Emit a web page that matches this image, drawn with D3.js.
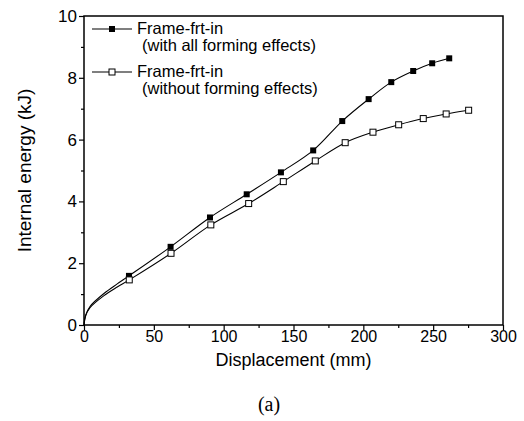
<!DOCTYPE html>
<html>
<head>
<meta charset="utf-8">
<script src="https://cdn.jsdelivr.net/npm/d3@7"></script>
<style>
  body { margin: 0; background: #fff; }
  text { font-family: "Liberation Sans", Arial, sans-serif; fill: #000; }
</style>
</head>
<body>
<script>
// Chart Data
// leading points trace the smooth start of each curve (no markers drawn there)
var startDisp = [0, 1.2, 4.3, 14.3, 23.8];
var startWith = [0, 0.32, 0.60, 1.02, 1.33];
var startWithout = [0, 0.30, 0.56, 0.95, 1.23];

// marked points, with all forming effects
var dispWith = [32.2, 62.0, 90.2, 116.5, 141.0, 164.1, 184.9, 203.8, 220.0, 235.7, 249.3, 261.5];
var energyWith = [1.59, 2.53, 3.48, 4.23, 4.94, 5.65, 6.60, 7.31, 7.86, 8.22, 8.47, 8.63];

// marked points, without forming effects
var dispWithout = [32.4, 62.3, 90.8, 117.9, 142.7, 165.6, 187.0, 206.9, 225.3, 242.9, 259.3, 275.4];
var energyWithout = [1.46, 2.32, 3.24, 3.93, 4.64, 5.31, 5.90, 6.24, 6.48, 6.68, 6.83, 6.95];

var xTicks = [0, 50, 100, 150, 200, 250, 300];
var yTicks = [0, 2, 4, 6, 8, 10];
var legendLabels = [
    ["Frame-frt-in", "(with all forming effects)"],
    ["Frame-frt-in", "(without forming effects)"]
];

// Define SVG Dimensions
var svgWidth = 524;
var svgHeight = 421;

var margin = { top: 16, bottom: 96, left: 84, right: 21 };
var chartWidth = svgWidth - margin.left - margin.right;
var chartHeight = svgHeight - margin.top - margin.bottom;

var svg = d3.select("body")
    .append("svg")
    .attr("width", svgWidth)
    .attr("height", svgHeight);

var chartGroup = svg.append("g")
    .attr("transform", `translate(${margin.left}, ${margin.top})`);

// Scales
var xScale = d3.scaleLinear().domain([0, 300]).range([0, chartWidth]);
var yScale = d3.scaleLinear().domain([0, 10]).range([chartHeight, 0]);

// Build point lists
function zipPts(xs, ys) {
    return xs.map((x, i) => ({ x: x, y: ys[i] }));
}
var seriesWith = zipPts(startDisp, startWith).concat(zipPts(dispWith, energyWith));
var seriesWithout = zipPts(startDisp, startWithout).concat(zipPts(dispWithout, energyWithout));

// Axes (major + minor ticks, outward)
var xMinor = d3.axisBottom(xScale).tickValues(d3.range(25, 300, 50)).tickSize(3).tickFormat("");
var xMajor = d3.axisBottom(xScale).tickValues(xTicks).tickSize(5).tickPadding(1).tickFormat(d3.format("d"));
var yMinor = d3.axisLeft(yScale).tickValues(d3.range(1, 10, 2)).tickSize(3).tickFormat("");
var yMajor = d3.axisLeft(yScale).tickValues(yTicks).tickSize(5).tickPadding(2).tickFormat(d3.format("d"));

[xMinor, xMajor].forEach(ax => {
    chartGroup.append("g")
        .attr("class", "xaxis")
        .attr("transform", `translate(0, ${chartHeight})`)
        .call(ax);
});
[yMinor, yMajor].forEach(ax => {
    chartGroup.append("g").attr("class", "yaxis").call(ax);
});

chartGroup.selectAll(".xaxis .tick text").attr("font-size", 16);
chartGroup.selectAll(".yaxis .tick text").attr("font-size", 17);
chartGroup.selectAll(".tick text").attr("font-family", "Liberation Sans, Arial, sans-serif");
chartGroup.selectAll(".domain").remove();
chartGroup.selectAll(".tick line").attr("stroke", "#000").attr("stroke-width", 1.2);

// Frame
chartGroup.append("rect")
    .attr("x", 0)
    .attr("y", 0)
    .attr("width", chartWidth)
    .attr("height", chartHeight)
    .attr("fill", "none")
    .attr("stroke", "#000")
    .attr("stroke-width", 1.5);

// Lines
var line = d3.line()
    .x(d => xScale(d.x))
    .y(d => yScale(d.y))
    .curve(d3.curveCatmullRom.alpha(0.5));

[seriesWith, seriesWithout].forEach(s => {
    chartGroup.append("path")
        .datum(s)
        .attr("d", line)
        .attr("fill", "none")
        .attr("stroke", "#000")
        .attr("stroke-width", 1.1);
});

// Markers
chartGroup.selectAll(".mWith")
    .data(zipPts(dispWith, energyWith))
    .enter()
    .append("rect")
    .attr("x", d => xScale(d.x) - 3)
    .attr("y", d => yScale(d.y) - 3)
    .attr("width", 6)
    .attr("height", 6)
    .attr("fill", "#000");

chartGroup.selectAll(".mWithout")
    .data(zipPts(dispWithout, energyWithout))
    .enter()
    .append("rect")
    .attr("x", d => xScale(d.x) - 3)
    .attr("y", d => yScale(d.y) - 3)
    .attr("width", 6)
    .attr("height", 6)
    .attr("fill", "#fff")
    .attr("stroke", "#000")
    .attr("stroke-width", 1);

// Legend
var legend = svg.append("g").attr("transform", "translate(92, 29)");
legendLabels.forEach((lab, i) => {
    var g = legend.append("g").attr("transform", `translate(0, ${i * 43})`);
    g.append("line")
        .attr("x1", 0).attr("x2", 40)
        .attr("y1", 0).attr("y2", 0)
        .attr("stroke", "#000")
        .attr("stroke-width", 1.1);
    g.append("rect")
        .attr("x", 17).attr("y", -3)
        .attr("width", 6).attr("height", 6)
        .attr("fill", i === 0 ? "#000" : "#fff")
        .attr("stroke", "#000")
        .attr("stroke-width", i === 0 ? 0 : 1);
    g.append("text")
        .attr("x", 45).attr("y", 5)
        .attr("font-size", 16.5)
        .text(lab[0]);
    g.append("text")
        .attr("x", 50).attr("y", 22)
        .attr("font-size", 16.5)
        .text(lab[1]);
});

// Axis Labels
svg.append("text")
    .attr("x", margin.left + chartWidth / 2)
    .attr("y", 366)
    .attr("text-anchor", "middle")
    .attr("font-size", 18)
    .text("Displacement (mm)");

svg.append("text")
    .attr("transform", `translate(31, ${margin.top + chartHeight / 2}) rotate(-90)`)
    .attr("text-anchor", "middle")
    .attr("font-size", 19)
    .text("Internal energy (kJ)");

svg.append("text")
    .attr("x", 269)
    .attr("y", 411)
    .attr("text-anchor", "middle")
    .attr("font-size", 20)
    .style("font-family", "Liberation Serif, Times New Roman, serif")
    .text("(a)");
</script>
</body>
</html>
